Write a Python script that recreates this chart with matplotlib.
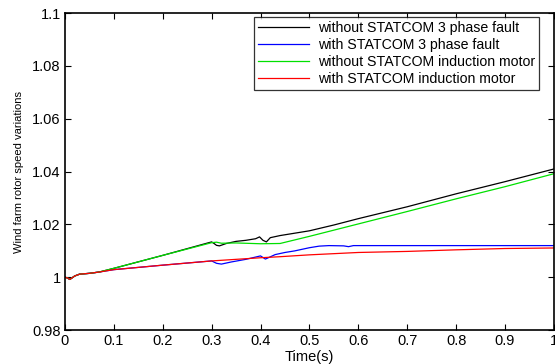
import matplotlib.pyplot as plt

plt.rcParams['font.family'] = ['Liberation Sans', 'DejaVu Sans']

# time points (s)
t_black = [0, 0.005, 0.01, 0.02, 0.03, 0.05, 0.07, 0.1, 0.2, 0.3, 0.305, 0.31, 0.316, 0.33, 0.35,
           0.37, 0.39, 0.398, 0.405, 0.412, 0.42, 0.44, 0.46, 0.5, 0.55, 0.6, 0.7, 0.8, 0.9, 1.0]
v_black = [1.0, 0.9998, 0.9992, 1.0005, 1.0012, 1.0015, 1.002, 1.0034, 1.0083, 1.0134, 1.0128,
           1.0121, 1.0119, 1.0128, 1.0136, 1.0140, 1.0146, 1.0153, 1.0140, 1.0134, 1.0150, 1.0158,
           1.0164, 1.0176, 1.0198, 1.0222, 1.0267, 1.0316, 1.0362, 1.0410]

t_green = [0, 0.005, 0.01, 0.02, 0.03, 0.05, 0.07, 0.1, 0.2, 0.3, 0.31, 0.32, 0.35, 0.4, 0.44,
           0.5, 0.6, 0.7, 0.8, 0.9, 1.0]
v_green = [1.0, 0.9998, 0.9992, 1.0005, 1.0012, 1.0015, 1.002, 1.0034, 1.0083, 1.0131, 1.0133,
           1.0129, 1.0130, 1.0127, 1.0128, 1.0155, 1.0202, 1.0249, 1.0297, 1.0343, 1.0392]

t_blue = [0, 0.005, 0.01, 0.02, 0.03, 0.05, 0.07, 0.1, 0.2, 0.3, 0.31, 0.32, 0.34, 0.37, 0.4,
          0.41, 0.43, 0.45, 0.47, 0.5, 0.52, 0.54, 0.57, 0.58, 0.59, 0.65, 0.8, 1.0]
v_blue = [1.0, 0.9998, 0.9992, 1.0005, 1.0012, 1.0015, 1.002, 1.0029, 1.0046, 1.0062, 1.0053,
          1.0050, 1.0058, 1.0068, 1.0081, 1.0069, 1.0086, 1.0094, 1.0100, 1.0112, 1.0118, 1.0120,
          1.0119, 1.0116, 1.0120, 1.0120, 1.0120, 1.0120]

t_red = [0, 0.005, 0.01, 0.02, 0.03, 0.05, 0.07, 0.1, 0.2, 0.3, 0.4, 0.44, 0.5, 0.6, 0.7, 0.8,
         0.9, 1.0]
v_red = [1.0, 0.9998, 0.9992, 1.0005, 1.0012, 1.0015, 1.002, 1.0029, 1.0046, 1.0062, 1.0074,
         1.0078, 1.0085, 1.0094, 1.0098, 1.0104, 1.0109, 1.0111]

labels = ['without STATCOM 3 phase fault', 'with STATCOM 3 phase fault',
          'without STATCOM induction motor', 'with STATCOM induction motor']

fig = plt.figure(figsize=(5.55, 3.64), dpi=100)
ax = fig.add_axes([0.117, 0.093, 0.881, 0.871])

ax.plot(t_black, v_black, color='black', lw=0.9, label=labels[0])
ax.plot(t_blue, v_blue, color='blue', lw=0.9, label=labels[1])
ax.plot(t_green, v_green, color='#00e000', lw=0.9, label=labels[2])
ax.plot(t_red, v_red, color='red', lw=0.9, label=labels[3])

ax.set_xlim(0, 1)
ax.set_ylim(0.98, 1.1)
ax.set_xticks([i / 10 for i in range(11)])
ax.set_xticklabels(['0', '0.1', '0.2', '0.3', '0.4', '0.5', '0.6', '0.7', '0.8', '0.9', '1'])
ax.set_yticks([0.98, 1.0, 1.02, 1.04, 1.06, 1.08, 1.1])
ax.set_yticklabels(['0.98', '1', '1.02', '1.04', '1.06', '1.08', '1.1'])
ax.tick_params(direction='in', top=True, right=True, labelsize=10.5, length=4, width=0.8, pad=3)
for s in ax.spines.values():
    s.set_linewidth(1.2)

ax.set_xlabel('Time(s)', fontsize=10.5, labelpad=1)
ax.set_ylabel('Wind farm rotor speed variations', fontsize=8, labelpad=6)

# legend box: 253..545 px wide, 17..90 px tall in the reference
leg = ax.legend(loc='upper right', bbox_to_anchor=(0.97, 0.988), fontsize=10.2, frameon=True,
                fancybox=False, edgecolor='black', handlelength=3.6, handletextpad=0.6,
                borderpad=0.3, labelspacing=0.2, borderaxespad=0)
leg.get_frame().set_linewidth(0.9)

fig.savefig('out.png', dpi=100)
